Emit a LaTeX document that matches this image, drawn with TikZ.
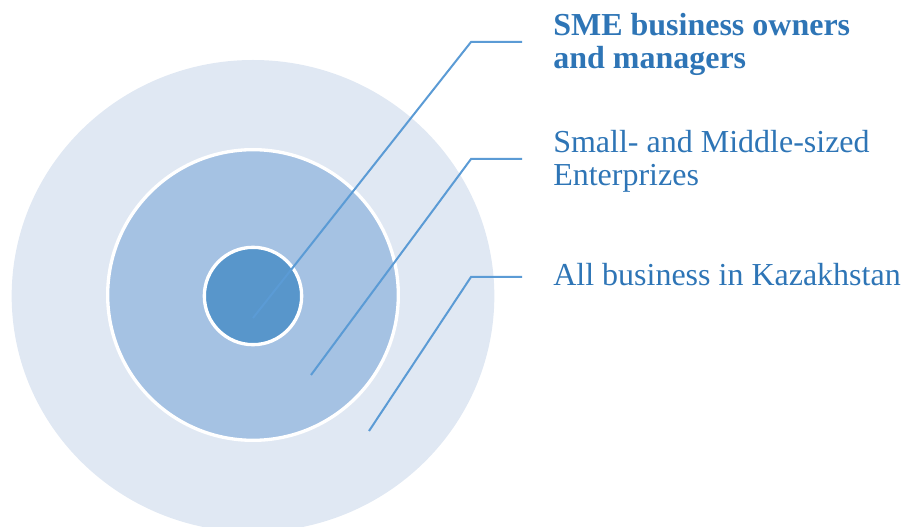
\documentclass[tikz,border=0pt]{standalone}
\usepackage{fontspec}
\setmainfont{Liberation Serif}
\usetikzlibrary{shapes.geometric, positioning}
\definecolor{ring1}{RGB}{224, 232, 243}
\definecolor{ring2}{RGB}{165, 194, 227}
\definecolor{ring3}{RGB}{88, 150, 203}
\definecolor{lead}{RGB}{91, 155, 213}
\definecolor{label}{RGB}{46, 117, 182}

\begin{document}
\begin{tikzpicture}[x=0.75pt, y=-0.75pt,
    disc/.style={circle, inner sep=0pt, draw=white, line width=2.5pt},
    leader/.style={draw=lead, line width=1.5pt},
    txt/.style={anchor=base west, inner sep=0pt, align=left, text=label,
        font=\fontsize{24}{24.75}\selectfont}]
    \useasboundingbox (0,0) rectangle (908,527);
    % nested circles
    \node[ellipse, inner sep=0pt, fill=ring1, minimum width=362pt, minimum height=354pt] (all) at (253,296) {};
    \node[disc, fill=ring2, minimum size=218pt] (sme) at (253,295) {};
    \node[disc, fill=ring3, minimum size=73pt] (own) at (253,296) {};
    % labels (base = last line)
    \node[txt, font=\fontsize{24}{24.75}\selectfont\bfseries] (lown) at (553,69) {SME business owners\\and managers};
    \node[txt] (lsme) at (553,186) {Small- and Middle-sized\\Enterprizes};
    \node[txt] (lall) at (553,286) {All business in Kazakhstan};
    % leader lines
    \coordinate (p1) at (253,318);
    \coordinate (k1) at (471,42);
    \coordinate (e1) at (522,42);
    \coordinate (p2) at (311,375);
    \coordinate (k2) at (471,159);
    \coordinate (e2) at (522,159);
    \coordinate (p3) at (369,431);
    \coordinate (k3) at (471,277);
    \coordinate (e3) at (522,277);
    \draw[leader] (p1) -- (k1) -- (e1);
    \draw[leader] (p2) -- (k2) -- (e2);
    \draw[leader] (p3) -- (k3) -- (e3);
\end{tikzpicture}
\end{document}
